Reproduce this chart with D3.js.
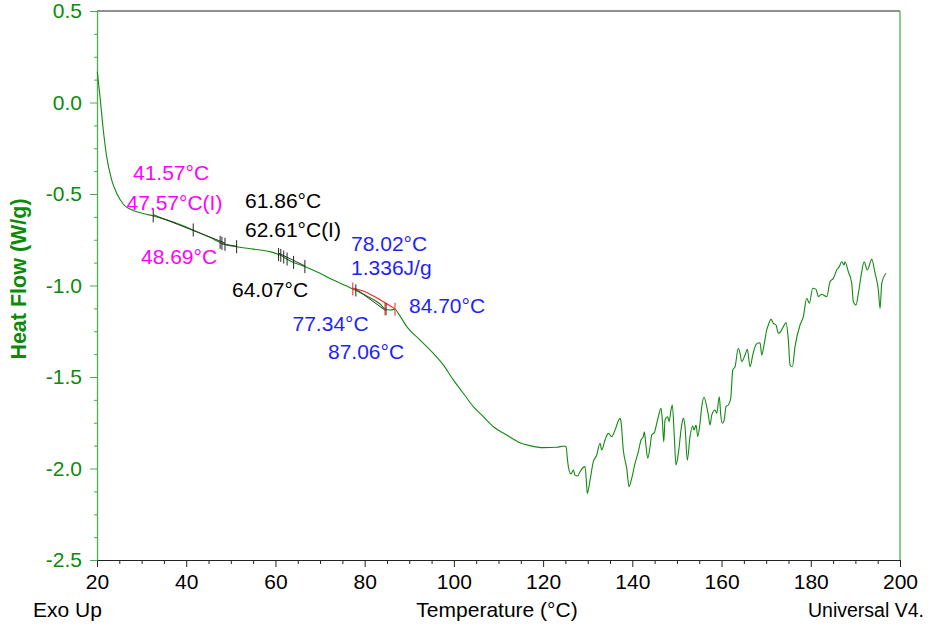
<!DOCTYPE html>
<html>
<head>
<meta charset="utf-8">
<script src="https://cdn.jsdelivr.net/npm/d3@7"></script>
<style>
  html, body { margin: 0; padding: 0; background: #fff; }
  svg { display: block; font-family: "Liberation Sans", Arial, sans-serif; }
</style>
</head>
<body>
<svg id="chart" width="930" height="630"></svg>
<script>
// ---------------- DATA ----------------
const temperature = [
  20.07, 20.67, 21.41, 22.17, 23.30, 24.42, 25.90, 28.14, 30.60, 32.62, 34.86, 37.87, 41.59, 45.33, 48.31,
  51.32, 55.04, 58.78, 61.02, 63.65, 66.25, 69.99, 72.97, 75.98, 77.84, 80.46, 83.44, 84.56, 85.68, 86.80,
  87.54, 89.43, 92.41, 95.39, 97.63, 99.87, 102.11, 104.36, 106.60, 108.84, 111.84, 114.82, 117.07, 120.05,
  123.05, 124.69, 125.14, 125.43, 125.66, 126.26, 126.78, 127.15, 127.76, 128.27, 129.39, 129.78, 129.91,
  130.52, 131.26, 132.02, 132.76, 133.14, 133.88, 134.62, 135.38, 136.12, 137.24, 137.46, 137.98, 138.74,
  139.26, 139.86, 140.60, 141.34, 141.95, 142.46, 142.69, 143.00, 143.45, 143.97, 144.35, 144.93, 145.47,
  145.83, 146.43, 146.72, 147.04, 147.33, 147.93, 148.23, 148.67, 148.96, 149.41, 149.79, 150.31, 151.07,
  151.43, 151.81, 152.33, 152.93, 153.54, 153.83, 154.28, 154.66, 155.17, 155.56, 156.07, 156.68, 157.04,
  157.42, 157.80, 158.54, 158.92, 159.50, 159.82, 160.17, 160.56, 161.00, 161.52, 162.06, 162.51, 163.02,
  163.76, 164.14, 164.52, 165.26, 165.78, 166.38, 166.99, 167.51, 168.02, 168.63, 169.01, 169.52, 170.13,
  170.48, 171.09, 171.61, 172.21, 172.73, 173.26, 173.85, 174.45, 174.97, 175.35, 175.87, 176.47, 177.59,
  178.33, 179.09, 179.68, 180.44, 181.18, 181.70, 182.46, 183.58, 184.32, 185.06, 185.82, 186.40, 186.94,
  187.46, 187.68, 188.42, 189.18, 189.54, 190.14, 190.66, 191.42, 191.94, 192.68, 193.67, 194.41, 195.15,
  195.53, 195.91, 196.87
];
const heatFlow = [
  0.168, 0.032, -0.150, -0.296, -0.424, -0.496, -0.556, -0.590, -0.608, -0.620, -0.636, -0.660, -0.697, -0.737, -0.773,
  -0.788, -0.801, -0.815, -0.833, -0.870, -0.893, -0.933, -0.970, -1.003, -1.025, -1.057, -1.101, -1.128, -1.134, -1.130,
  -1.152, -1.225, -1.298, -1.371, -1.434, -1.516, -1.589, -1.662, -1.717, -1.772, -1.817, -1.859, -1.875, -1.886,
  -1.884, -1.877, -1.881, -1.943, -1.990, -2.030, -2.008, -2.036, -2.041, -2.018, -1.990, -2.099, -2.136,
  -2.063, -1.963, -1.926, -1.862, -1.899, -1.844, -1.808, -1.826, -1.790, -1.726, -1.744, -1.899, -1.999,
  -2.099, -2.054, -1.972, -1.908, -1.844, -1.826, -1.799, -1.862, -1.944, -1.881, -1.817, -1.804, -1.753,
  -1.717, -1.671, -1.735, -1.854, -1.735, -1.717, -1.744, -1.680, -1.653, -1.826, -1.981, -1.917, -1.762,
  -1.726, -1.772, -1.954, -1.826, -1.768, -1.790, -1.762, -1.826, -1.753, -1.662, -1.611, -1.662, -1.708,
  -1.762, -1.708, -1.680, -1.698, -1.608, -1.708, -1.753, -1.739, -1.662, -1.653, -1.616, -1.462, -1.444,
  -1.343, -1.370, -1.416, -1.380, -1.349, -1.444, -1.380, -1.334, -1.316, -1.313, -1.380, -1.325, -1.243,
  -1.216, -1.185, -1.207, -1.216, -1.261, -1.252, -1.225, -1.203, -1.298, -1.434, -1.444, -1.334, -1.216,
  -1.170, -1.070, -1.097, -1.015, -1.021, -1.061, -1.048, -1.061, -0.979, -0.961, -0.915, -0.897, -0.870,
  -0.888, -0.870, -0.925, -0.988, -1.089, -1.107, -1.043, -0.925, -0.870, -0.915, -0.857, -0.933, -1.025,
  -1.125, -0.988, -0.933
];

// Glass transition analysis marker temperatures (°C)
const glass1Markers = [32.6, 41.57, 47.6, 48.0, 48.69, 51.3];
const glass2Markers = [60.7, 61.2, 61.86, 62.61, 64.07, 66.6];
// Peak integration markers
const peakRedMarkers = [77.34, 84.56, 86.8];
const peakBlackMarkers = [78.02, 84.79];

// Tangent / baseline segments (temperature, heat flow)
const tangentT = [[32.6, 48.7], [48.0, 51.3], [60.7, 66.6], [78.06, 84.79]];
const tangentV = [[-0.613, -0.768], [-0.772, -0.786], [-0.823, -0.893], [-1.019, -1.139]];
const peakBaseT = [77.25, 80.46, 83.44, 85.68, 86.80];
const peakBaseV = [-1.014, -1.038, -1.078, -1.111, -1.128];

// Annotation texts
const magentaLabels = ["41.57°C", "47.57°C(I)", "48.69°C"];
const blackLabels = ["61.86°C", "62.61°C(I)", "64.07°C"];
const blueLabels = ["78.02°C", "1.336J/g", "84.70°C", "77.34°C", "87.06°C"];

// Axis ticks
const xTicks = [20, 40, 60, 80, 100, 120, 140, 160, 180, 200];
const yTicks = [0.5, 0.0, -0.5, -1.0, -1.5, -2.0, -2.5];
const xTitle = "Temperature (°C)";
const yTitle = "Heat Flow (W/g)";
const leftNote = "Exo Up";
const rightNote = "Universal V4.";

// ---------------- LAYOUT ----------------
const L = 97, R = 900, T = 11, B = 560;
// anchor points of annotations in data space [temperature, heat flow] (text start, baseline)
const magentaPos = [[28.07, -0.424], [26.61, -0.585], [29.86, -0.882]];
const blackPos = [[53.18, -0.577], [53.18, -0.735], [50.26, -1.063]];
const bluePos = [[76.94, -0.812], [76.94, -0.945], [89.94, -1.150], [63.83, -1.249], [71.78, -1.402]];

const GREEN = "#0b8a0b";
const AXISGREEN = "#4fae4f";
const MAGENTA = "#ff00ff";
const BLUE = "#1f1fff";
const FS = 21;

const svg = d3.select("#chart");
const x = d3.scaleLinear().domain([20, 200]).range([L, R]);
const y = d3.scaleLinear().domain([-2.5, 0.5]).range([B, T]);

// Borders
svg.append("line").attr("x1", L).attr("x2", R).attr("y1", T).attr("y2", T)
  .attr("stroke", "#222").attr("stroke-width", 1);
svg.append("line").attr("x1", R).attr("x2", R).attr("y1", T).attr("y2", B)
  .attr("stroke", AXISGREEN).attr("stroke-width", 1.3);

// X axis: minor ticks
const xMinor = d3.range(20, 200.01, 5).filter(v => v % 20 !== 0);
const gxMinor = svg.append("g").attr("transform", `translate(0,${B})`)
  .call(d3.axisBottom(x).tickValues(xMinor).tickSize(4).tickFormat(""));
gxMinor.select(".domain").remove();
gxMinor.selectAll("line").attr("stroke", "#222");
const gx = svg.append("g").attr("transform", `translate(0,${B})`)
  .call(d3.axisBottom(x).tickValues(xTicks).tickSize(7).tickSizeOuter(0).tickFormat(d => String(d)));
gx.select(".domain").attr("stroke", "#222");
gx.selectAll("line").attr("stroke", "#222");
gx.selectAll("text").attr("font-size", FS).attr("fill", "#000").attr("dy", "0.9em")
  .attr("font-family", "Liberation Sans, Arial, sans-serif");

// Y axis
const yMinor = d3.range(-2.5, 0.5001, 0.125).filter(v => Math.abs((v * 2) - Math.round(v * 2)) > 1e-6);
const gyMinor = svg.append("g").attr("transform", `translate(${L},0)`)
  .call(d3.axisLeft(y).tickValues(yMinor).tickSize(3).tickFormat(""));
gyMinor.select(".domain").remove();
gyMinor.selectAll("line").attr("stroke", AXISGREEN);
const gy = svg.append("g").attr("transform", `translate(${L},0)`)
  .call(d3.axisLeft(y).tickValues(yTicks).tickSize(7).tickSizeOuter(0).tickFormat(d => d.toFixed(1)));
gy.select(".domain").attr("stroke", AXISGREEN).attr("stroke-width", 1.3);
gy.selectAll("line").attr("stroke", AXISGREEN);
gy.selectAll("text").attr("font-size", FS).attr("fill", GREEN).attr("x", -15)
  .attr("font-family", "Liberation Sans, Arial, sans-serif");

// Titles
svg.append("text").attr("x", 497).attr("y", 617).attr("text-anchor", "middle")
  .attr("font-size", FS).attr("fill", "#000").text(xTitle);
svg.append("text").attr("x", 33).attr("y", 617).attr("font-size", FS).attr("fill", "#000").text(leftNote);
svg.append("text").attr("x", 808).attr("y", 617).attr("font-size", 19.5).attr("fill", "#000").text(rightNote);
svg.append("text").attr("transform", "translate(26,279) rotate(-90)").attr("text-anchor", "middle")
  .attr("font-size", 21.5).attr("font-weight", "bold").attr("fill", GREEN).text(yTitle);

// Curve
const pts = temperature.map((t, i) => [t, heatFlow[i]]);
const line = d3.line().x(d => x(d[0])).y(d => y(d[1])).curve(d3.curveMonotoneX);
svg.append("path").datum(pts).attr("d", line).attr("fill", "none")
  .attr("stroke", "#118a11").attr("stroke-width", 1.1);

// Helper: curve value at temperature
function valueAt(t) {
  const i = d3.bisectLeft(temperature, t);
  if (i <= 0) return heatFlow[0];
  if (i >= temperature.length) return heatFlow[heatFlow.length - 1];
  const t0 = temperature[i - 1], t1 = temperature[i];
  const f = (t - t0) / (t1 - t0);
  return heatFlow[i - 1] + f * (heatFlow[i] - heatFlow[i - 1]);
}

// Tangent lines
const segLine = d3.line().x(d => x(d[0])).y(d => y(d[1]));
tangentT.forEach((ts, i) => {
  svg.append("path").datum([[ts[0], tangentV[i][0]], [ts[1], tangentV[i][1]]])
    .attr("d", segLine).attr("fill", "none").attr("stroke", "#333").attr("stroke-width", 1);
});
svg.append("path").datum(peakBaseT.map((t, i) => [t, peakBaseV[i]]))
  .attr("d", d3.line().x(d => x(d[0])).y(d => y(d[1])).curve(d3.curveMonotoneX))
  .attr("fill", "none").attr("stroke", "#ff2020").attr("stroke-width", 1.1);

// Markers
function markers(list, color, half) {
  svg.append("g").selectAll("line").data(list).join("line")
    .attr("x1", d => x(d)).attr("x2", d => x(d))
    .attr("y1", d => y(valueAt(d)) - half).attr("y2", d => y(valueAt(d)) + half)
    .attr("stroke", color).attr("stroke-width", 1);
}
markers(glass1Markers, "#222", 6.5);
markers(glass2Markers, "#222", 6.5);
markers(peakBlackMarkers, "#222", 6);
markers(peakRedMarkers, "#ff2020", 6.5);

// Annotations
function labels(texts, pos, color) {
  svg.append("g").selectAll("text").data(texts).join("text")
    .attr("x", (d, i) => x(pos[i][0])).attr("y", (d, i) => y(pos[i][1]))
    .attr("font-size", FS).attr("fill", color).text(d => d);
}
labels(magentaLabels, magentaPos, MAGENTA);
labels(blackLabels, blackPos, "#000");
labels(blueLabels, bluePos, BLUE);
</script>
</body>
</html>
